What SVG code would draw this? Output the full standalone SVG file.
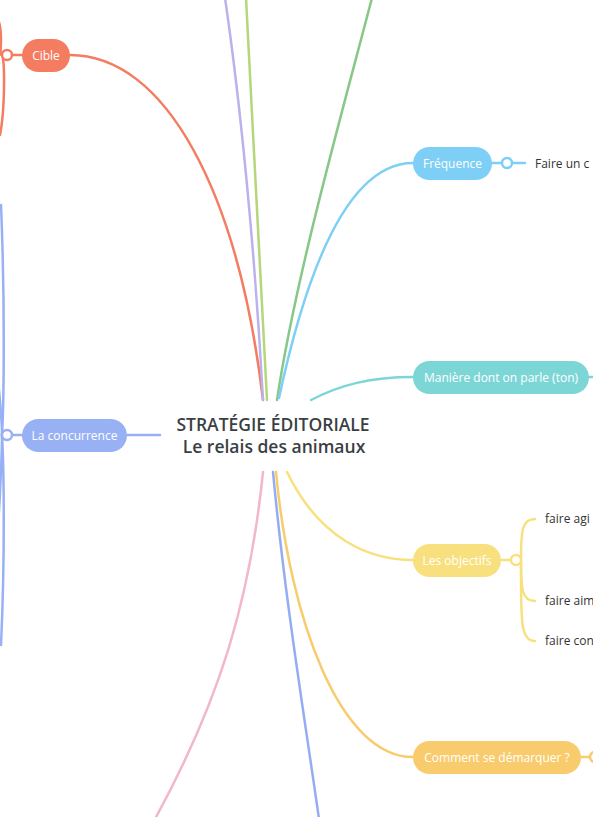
<svg xmlns="http://www.w3.org/2000/svg" width="593" height="817" viewBox="0 0 593 817">
<style>
.l{fill:none;stroke-width:2.5;stroke-linecap:round}
.t{font-family:"Open Sans","Liberation Sans",sans-serif;font-size:12px;fill:#fff}
.s{font-family:"Open Sans","Liberation Sans",sans-serif;font-size:12px;fill:#333}
.c{font-family:"Open Sans","Liberation Sans",sans-serif;font-size:17.5px;font-weight:600;fill:#3a3f44;text-anchor:middle}
.k{fill:#fff;stroke-width:2.5}
</style>
<rect width="593" height="817" fill="#fff"/>
<g id="connectors">
<path class="l" stroke="#F47C61" d="M70,55 C165,55 238,190 263,400"/>
<path class="l" stroke="#F47C61" d="M2,55 C-2,55 4,40 -1,22"/>
<path class="l" stroke="#F47C61" d="M2,55 C5,62 5,110 0,135"/>
<path class="l" stroke="#F47C61" d="M12,55 L22,55"/>
<path class="l" stroke="#BBB1EC" d="M225,-2 C240,100 255,250 263,400"/>
<path class="l" stroke="#B6D67A" d="M246,-2 C252,130 262,280 267,400"/>
<path class="l" stroke="#88C788" d="M372,-2 C340,120 295,280 277,400"/>
<path class="l" stroke="#7ECFF6" d="M279,398 C300,300 340,163 413,163"/>
<path class="l" stroke="#7ECFF6" d="M492,163 L502,163 M512,163 L525,163"/>
<path class="l" stroke="#7DD6D6" d="M311,400 C340,385 370,377 413,377"/>
<path class="l" stroke="#7DD6D6" d="M589,377 L595,377"/>
<path class="l" stroke="#98B1F5" d="M127,435 L160,435"/>
<path class="l" stroke="#98B1F5" d="M12,435 L22,435"/>
<path class="l" stroke="#98B1F5" d="M2,435 C4,400 5,300 1,205"/>
<path class="l" stroke="#98B1F5" d="M2,435 C4,470 5,560 1,645"/>
<path class="l" stroke="#98B1F5" d="M2,435 C2,420 0,400 -2,380"/>
<path class="l" stroke="#98B1F5" d="M2,435 C2,450 0,500 -2,525"/>
<path class="l" stroke="#F2B8C8" d="M263,472 C250,600 220,700 155,819"/>
<path class="l" stroke="#94ACF2" d="M273,472 C285,600 305,720 319,819"/>
<path class="l" stroke="#F8CC6C" d="M276,472 C290,620 340,757 413,757"/>
<path class="l" stroke="#F8CC6C" d="M581,757 L590,757"/>
<path class="l" stroke="#F9E07F" d="M287,472 C320,540 370,560 413,560"/>
<path class="l" stroke="#F9E07F" d="M501,560 L511,560"/>
<path class="l" stroke="#F9E07F" d="M521,560 C521,530 522,519 535,519"/>
<path class="l" stroke="#F9E07F" d="M521,560 C521,590 522,601 535,601"/>
<path class="l" stroke="#F9E07F" d="M521,560 C521,620 520,641 535,641"/>
</g>
<g id="center">
<text class="c" x="273" y="431">STRATÉGIE ÉDITORIALE</text>
<text class="c" x="274" y="453">Le relais des animaux</text>
</g>
<g id="cible">
<circle class="k" stroke="#F47C61" cx="7" cy="55" r="5"/>
<rect x="22" y="39" width="48" height="33" rx="16.5" fill="#F47C61"/>
<text class="t" x="46" y="59.5" text-anchor="middle">Cible</text>
</g>
<g id="frequence">
<rect x="413" y="147" width="79" height="33" rx="16.5" fill="#7ECFF6"/>
<text class="t" x="452.5" y="167.5" text-anchor="middle">Fréquence</text>
<circle class="k" stroke="#7ECFF6" cx="507" cy="163" r="5"/>
<text class="s" x="535" y="167.5">Faire un c</text>
</g>
<g id="maniere">
<rect x="413" y="361" width="176" height="33" rx="16.5" fill="#7DD6D6"/>
<text class="t" x="501" y="381.5" text-anchor="middle">Manière dont on parle (ton)</text>
</g>
<g id="concurrence">
<circle class="k" stroke="#98B1F5" cx="7" cy="435" r="5"/>
<rect x="22" y="419" width="105" height="33" rx="16.5" fill="#98B1F5"/>
<text class="t" x="74.5" y="439.5" text-anchor="middle">La concurrence</text>
</g>
<g id="objectifs">
<rect x="413" y="544" width="88" height="33" rx="16.5" fill="#F9E07F"/>
<text class="t" x="457" y="564.5" text-anchor="middle">Les objectifs</text>
<circle class="k" stroke="#F9E07F" cx="516" cy="560" r="5"/>
<text class="s" x="545" y="523">faire agi</text>
<text class="s" x="545" y="605">faire aim</text>
<text class="s" x="545" y="645">faire con</text>
</g>
<g id="demarquer">
<rect x="413" y="741" width="168" height="33" rx="16.5" fill="#F8CC6C"/>
<text class="t" x="497" y="761.5" text-anchor="middle">Comment se démarquer ?</text>
<circle class="k" stroke="#F8CC6C" cx="595" cy="757" r="5"/>
</g>
</svg>
